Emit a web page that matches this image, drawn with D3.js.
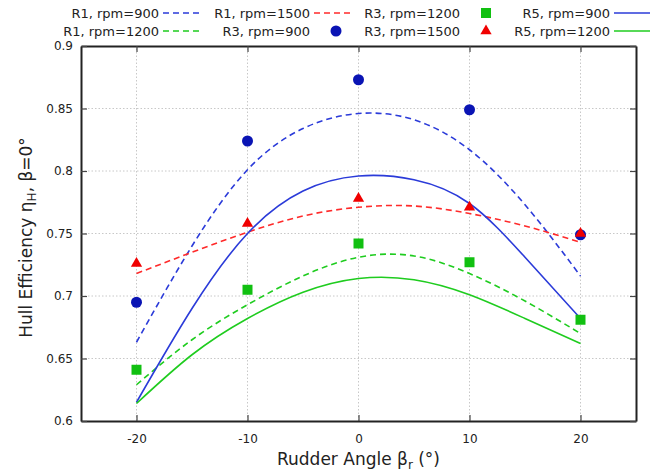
<!DOCTYPE html>
<html>
<head>
<meta charset="utf-8">
<script src="https://cdn.jsdelivr.net/npm/d3@7"></script>
<style>
  body { margin: 0; background: #fff; }
  text { font-family: "DejaVu Sans", sans-serif; fill: #222; }
</style>
</head>
<body>
<div id="chart"></div>
<script>
// rudder angles for the fitted curves and for the measured points
var fitAngles = [-20, -15, -10, -5, 0, 5, 10, 15, 20];
var pointAngles = [-20, -10, 0, 10, 20];

// fitted curves
var r1rpm900 = [0.663, 0.740, 0.801, 0.834, 0.846, 0.841, 0.817, 0.773, 0.716];
var r1rpm1200 = [0.629, 0.665, 0.693, 0.716, 0.731, 0.732, 0.718, 0.696, 0.670];
var r1rpm1500 = [0.718, 0.735, 0.751, 0.764, 0.771, 0.772, 0.766, 0.756, 0.743];
var r5rpm900 = [0.615, 0.690, 0.750, 0.784, 0.796, 0.793, 0.774, 0.731, 0.682];
var r5rpm1200 = [0.614, 0.653, 0.682, 0.703, 0.714, 0.713, 0.701, 0.682, 0.662];

// measured points
var r3rpm900 = [0.695, 0.824, 0.873, 0.849, 0.749];
var r3rpm1200 = [0.641, 0.705, 0.742, 0.727, 0.681];
var r3rpm1500 = [0.726, 0.758, 0.778, 0.771, 0.750];

var xTicks = [-20, -10, 0, 10, 20];
var yTicks = [0.6, 0.65, 0.7, 0.75, 0.8, 0.85, 0.9];

var blue = "#2b3bd9", darkBlue = "#0a14b4", green = "#1fcc1f", red = "#ff2a2a";

var width = 662, height = 471;
var margin = { top: 46, right: 26, bottom: 50, left: 81 };

var svg = d3.select("#chart").append("svg")
    .attr("width", width)
    .attr("height", height);

var x = d3.scaleLinear().domain([-25, 25]).range([margin.left, width - margin.right]);
var y = d3.scaleLinear().domain([0.6, 0.9]).range([height - margin.bottom, margin.top]);

// grid
svg.append("g").selectAll("line").data(yTicks.slice(1, -1)).enter().append("line")
    .attr("x1", x.range()[0]).attr("x2", x.range()[1])
    .attr("y1", function (d) { return y(d); }).attr("y2", function (d) { return y(d); })
    .attr("stroke", "#c8c8c8").attr("stroke-width", 1).attr("stroke-dasharray", "1.5,2");
svg.append("g").selectAll("line").data(xTicks).enter().append("line")
    .attr("y1", y.range()[0]).attr("y2", y.range()[1])
    .attr("x1", function (d) { return x(d); }).attr("x2", function (d) { return x(d); })
    .attr("stroke", "#c8c8c8").attr("stroke-width", 1).attr("stroke-dasharray", "1.5,2");

// axes (ticks pointing inward, all four sides)
var axisB = svg.append("g").attr("transform", "translate(0," + y.range()[0] + ")")
    .call(d3.axisBottom(x).tickValues(xTicks).tickSizeInner(-6).tickSizeOuter(0).tickPadding(13)
        .tickFormat(function (d) { return String(d); }));
var axisT = svg.append("g").attr("transform", "translate(0," + y.range()[1] + ")")
    .call(d3.axisTop(x).tickValues(xTicks).tickSizeInner(-6).tickSizeOuter(0).tickFormat(""));
var axisL = svg.append("g").attr("transform", "translate(" + x.range()[0] + ",0)")
    .call(d3.axisLeft(y).tickValues(yTicks).tickSizeInner(-6).tickSizeOuter(0).tickPadding(8)
        .tickFormat(function (d) { return String(+d.toFixed(2)); }));
var axisR = svg.append("g").attr("transform", "translate(" + x.range()[1] + ",0)")
    .call(d3.axisRight(y).tickValues(yTicks).tickSizeInner(-6).tickSizeOuter(0).tickFormat(""));

[axisB, axisT, axisL, axisR].forEach(function (a) {
    a.select(".domain").attr("stroke", "#222").attr("stroke-width", 2);
    a.selectAll(".tick line").attr("stroke", "#444").attr("stroke-width", 1.2);
    a.selectAll("text").style("font-size", "12px").attr("fill", "#222");
});

// curves
var line = d3.line()
    .x(function (d) { return x(d[0]); })
    .y(function (d) { return y(d[1]); })
    .curve(d3.curveNatural);

var curves = [
    { values: r1rpm900, color: blue, dash: "6,4" },
    { values: r1rpm1200, color: green, dash: "6,4" },
    { values: r1rpm1500, color: red, dash: "6,4" },
    { values: r5rpm900, color: blue, dash: null },
    { values: r5rpm1200, color: green, dash: null }
];

curves.forEach(function (c) {
    svg.append("path")
        .datum(d3.zip(fitAngles, c.values))
        .attr("d", line)
        .attr("fill", "none")
        .attr("stroke", c.color)
        .attr("stroke-width", 1.6)
        .attr("stroke-dasharray", c.dash);
});

// markers
var symCircle = d3.symbol().type(d3.symbolCircle).size(95);
var symSquare = d3.symbol().type(d3.symbolSquare).size(100);
var symTriangle = d3.symbol().type(d3.symbolTriangle).size(55);

var pointSets = [
    { values: r3rpm900, color: darkBlue, sym: symCircle },
    { values: r3rpm1200, color: "#11c011", sym: symSquare },
    { values: r3rpm1500, color: "#f00000", sym: symTriangle }
];

pointSets.forEach(function (p) {
    svg.append("g").selectAll("path").data(d3.zip(pointAngles, p.values)).enter().append("path")
        .attr("d", p.sym)
        .attr("transform", function (d) { return "translate(" + x(d[0]) + "," + y(d[1]) + ")"; })
        .attr("fill", p.color);
});

// legend
var legendItems = [
    { label: "R1, rpm=900", color: blue, dash: "6,4", col: 0, row: 0 },
    { label: "R1, rpm=1500", color: red, dash: "6,4", col: 1, row: 0 },
    { label: "R3, rpm=1200", color: "#11c011", sym: symSquare, col: 2, row: 0 },
    { label: "R5, rpm=900", color: blue, dash: null, col: 3, row: 0 },
    { label: "R1, rpm=1200", color: green, dash: "6,4", col: 0, row: 1 },
    { label: "R3, rpm=900", color: darkBlue, sym: symCircle, col: 1, row: 1 },
    { label: "R3, rpm=1500", color: "#f00000", sym: symTriangle, col: 2, row: 1 },
    { label: "R5, rpm=1200", color: green, dash: null, col: 3, row: 1 }
];
var colEnds = [159, 310, 460, 610];
var rowY = [13, 31];

legendItems.forEach(function (it) {
    var g = svg.append("g").attr("transform", "translate(" + colEnds[it.col] + "," + rowY[it.row] + ")");
    g.append("text").attr("x", 0).attr("y", 0).attr("dy", "0.35em")
        .attr("text-anchor", "end").style("font-size", "13px").text(it.label);
    if (it.sym) {
        g.append("path").attr("d", it.sym).attr("transform", "translate(26,0)").attr("fill", it.color);
    } else {
        g.append("line").attr("x1", 4).attr("x2", 40).attr("y1", 0).attr("y2", 0)
            .attr("stroke", it.color).attr("stroke-width", 1.6).attr("stroke-dasharray", it.dash);
    }
});

// axis titles
var xt = svg.append("text")
    .attr("x", (x.range()[0] + x.range()[1]) / 2)
    .attr("y", 465)
    .attr("text-anchor", "middle")
    .style("font-size", "17px");
xt.append("tspan").text("Rudder Angle β");
xt.append("tspan").attr("dy", 4).style("font-size", "12px").text("r");
xt.append("tspan").attr("dy", -4).text(" (°)");

var yt = svg.append("text")
    .attr("transform", "translate(32," + ((y.range()[0] + y.range()[1]) / 2 + 4) + ") rotate(-90)")
    .attr("text-anchor", "middle")
    .style("font-size", "17px");
yt.append("tspan").text("Hull Efficiency η");
yt.append("tspan").attr("dy", 4).style("font-size", "12px").text("H");
yt.append("tspan").attr("dy", -4).text(", β=0°");
</script>
</body>
</html>
